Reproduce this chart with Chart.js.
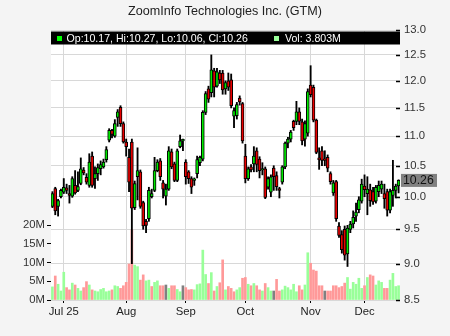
<!DOCTYPE html>
<html>
<head>
<meta charset="utf-8">
<script src="https://cdn.jsdelivr.net/npm/chart.js@4.4.1/dist/chart.umd.min.js"></script>
<style>
  html, body { margin: 0; padding: 0; background: #f4f4f4; }
</style>
</head>
<body>
<canvas id="chart" width="450" height="336"></canvas>
<script>
// trading days, Jun 25 - Dec 17 2025
var dates = [
  "2025-06-25","2025-06-26","2025-06-27","2025-06-30",
  "2025-07-01","2025-07-02","2025-07-03","2025-07-07","2025-07-08","2025-07-09","2025-07-10","2025-07-11",
  "2025-07-14","2025-07-15","2025-07-16","2025-07-17","2025-07-18","2025-07-21","2025-07-22","2025-07-23",
  "2025-07-24","2025-07-25","2025-07-28","2025-07-29","2025-07-30","2025-07-31",
  "2025-08-01","2025-08-04","2025-08-05","2025-08-06","2025-08-07","2025-08-08","2025-08-11","2025-08-12",
  "2025-08-13","2025-08-14","2025-08-15","2025-08-18","2025-08-19","2025-08-20","2025-08-21","2025-08-22",
  "2025-08-25","2025-08-26","2025-08-27","2025-08-28","2025-08-29",
  "2025-09-02","2025-09-03","2025-09-04","2025-09-05","2025-09-08","2025-09-09","2025-09-10","2025-09-11",
  "2025-09-12","2025-09-15","2025-09-16","2025-09-17","2025-09-18","2025-09-19","2025-09-22","2025-09-23",
  "2025-09-24","2025-09-25","2025-09-26","2025-09-29","2025-09-30",
  "2025-10-01","2025-10-02","2025-10-03","2025-10-06","2025-10-07","2025-10-08","2025-10-09","2025-10-10",
  "2025-10-13","2025-10-14","2025-10-15","2025-10-16","2025-10-17","2025-10-20","2025-10-21","2025-10-22",
  "2025-10-23","2025-10-24","2025-10-27","2025-10-28","2025-10-29","2025-10-30","2025-10-31",
  "2025-11-03","2025-11-04","2025-11-05","2025-11-06","2025-11-07","2025-11-10","2025-11-11","2025-11-12",
  "2025-11-13","2025-11-14","2025-11-17","2025-11-18","2025-11-19","2025-11-20","2025-11-21","2025-11-24",
  "2025-11-25","2025-11-26","2025-11-28",
  "2025-12-01","2025-12-02","2025-12-03","2025-12-04","2025-12-05","2025-12-08","2025-12-09","2025-12-10",
  "2025-12-11","2025-12-12","2025-12-15","2025-12-16","2025-12-17"
];

var opens = [
  9.85,10.13,9.85,10.00, 10.07,10.14,10.05,10.01,10.18,10.10,10.21,10.43,10.31,10.18,10.66,10.29,10.37,10.45,
  10.48,10.60,10.93,11.10,11.00,11.33,11.51,11.22, 10.90,10.64,10.90,9.83,10.32,10.40,9.91,9.62,9.66,10.00,
  10.10,10.42,10.58,10.22,10.01,10.12,10.73,10.53,10.26,10.82,10.92, 10.56,10.40,10.29,10.26,10.37,10.55,10.61,
  11.42,11.85,11.78,12.19,11.90,12.15,12.15,11.85,12.00,12.02,11.35,11.36,11.68,11.58, 10.66,10.29,10.48,10.53,
  10.75,10.61,10.43,10.45,10.15,10.07,10.46,10.34,10.13,10.23,10.48,10.88,10.95,11.26,11.26,11.43,11.25,10.95,
  11.05, 11.92,11.88,11.28,10.63,10.75,10.61,10.64,10.37,10.06,10.24,9.55,9.42,9.50,9.14,9.50,9.58,9.70,9.80,
  9.93, 10.17,10.05,10.11,10.08,9.93,10.08,10.12,10.05,10.08,9.79,10.02,10.10,10.17
];
var highs = [
  10.08,10.15,9.96,10.12, 10.29,10.20,10.18,10.32,10.42,10.40,10.63,10.47,10.37,10.70,10.73,10.48,10.53,10.58,
  10.61,10.82,11.13,11.12,11.29,11.47,11.54,11.25, 10.95,10.78,10.95,10.25,10.80,10.43,9.93,9.65,10.15,10.12,
  10.64,10.60,10.62,10.26,10.20,10.82,10.78,10.56,10.78,11.02,10.95, 10.60,10.42,10.32,10.30,10.66,10.66,11.45,
  11.80,11.90,12.50,12.24,12.24,12.20,12.20,12.00,12.15,12.13,11.50,11.60,11.72,11.60, 10.86,10.48,10.52,10.82,
  10.80,10.65,10.55,10.48,10.32,10.35,10.50,10.40,10.15,10.50,10.90,10.98,11.10,11.28,11.62,11.50,11.30,11.27,
  11.85, 12.29,11.92,11.30,10.80,10.82,10.75,10.68,10.40,10.26,10.26,9.60,9.48,9.55,9.56,9.62,9.78,9.90,10.00,
  10.28, 10.35,10.32,10.20,10.15,10.18,10.25,10.25,10.20,10.12,10.12,10.59,10.20,10.27
];
var lows = [
  9.83,9.72,9.70,9.98, 10.05,10.05,9.90,9.99,10.04,10.08,10.19,10.35,10.20,10.15,10.15,10.13,10.26,10.35,
  10.46,10.56,10.90,10.97,10.98,11.17,11.17,10.88, 10.66,10.08,9.00,9.80,9.95,9.82,9.50,9.45,9.62,9.98,
  10.08,10.40,10.26,9.98,9.87,10.10,10.45,10.24,10.24,10.80,10.75, 10.20,10.21,10.05,10.18,10.30,10.50,10.58,
  11.38,11.60,11.70,11.70,11.88,11.95,11.75,11.75,11.82,11.50,11.15,11.30,11.55,10.88, 10.22,10.26,10.40,10.40,
  10.40,10.30,10.35,9.97,10.12,10.00,10.10,10.10,9.98,10.20,10.45,10.80,10.90,11.10,11.20,11.20,10.85,10.83,
  11.00, 11.70,11.25,10.70,10.44,10.50,10.50,10.40,10.20,10.02,9.62,9.38,9.15,9.05,8.96,9.45,9.52,9.62,9.75,
  9.90, 10.00,9.72,9.85,9.88,9.90,10.00,10.05,9.82,9.70,9.75,9.85,9.98,10.06
];
var closes = [
  10.05,9.78,9.94,10.10, 10.15,10.10,10.02,10.29,10.06,10.16,10.45,10.38,10.23,10.56,10.18,10.37,10.47,10.52,
  10.56,10.77,11.10,11.03,11.22,11.43,11.22,10.90, 10.82,10.23,9.82,10.21,10.42,9.85,9.55,9.56,10.10,10.05,
  10.42,10.56,10.32,10.12,10.12,10.75,10.48,10.26,10.75,10.92,10.92, 10.32,10.29,10.15,10.26,10.60,10.64,11.42,
  11.76,11.66,12.21,11.88,12.17,12.02,11.83,11.97,11.88,11.54,11.45,11.56,11.61,10.92, 10.29,10.45,10.43,10.66,
  10.52,10.42,10.45,9.99,10.29,10.32,10.32,10.16,10.10,10.48,10.88,10.95,11.07,11.15,11.43,11.26,10.92,11.22,
  11.80, 11.74,11.28,10.72,10.60,10.59,10.59,10.46,10.24,10.22,9.66,9.41,9.20,9.12,9.52,9.58,9.68,9.76,9.95,
  10.20, 10.11,10.12,9.94,9.92,10.15,10.18,10.20,9.97,9.79,10.08,10.10,10.17,10.26
];
// volume in millions of shares
var volumes = [
  3.5,6.4,4.2,2.4, 7.4,3.3,2.7,4.5,4.0,3.1,2.4,3.3,4.9,4.0,2.7,2.4,2.2,2.8,3.1,2.2,2.4,2.7,3.8,3.6,3.1,3.8,
  4.7,9.6,18.7,9.3,8.9,5.3,6.7,5.1,5.3,3.6,4.7,5.1,3.8,3.8,4.0,3.1,3.8,3.8,2.8,2.2,3.8,
  3.3,2.7,2.8,2.7,4.1,4.3,13.3,6.8,4.4,7.3,2.4,3.6,4.6,10.7,2.7,3.6,3.1,2.2,2.7,3.3,5.8,
  6.0,4.2,3.8,4.4,3.8,2.7,2.4,4.4,3.3,2.4,2.4,5.5,2.4,2.7,3.7,3.3,2.7,4.2,2.2,3.8,2.7,4.0,12.6,
  9.8,8.0,7.7,3.8,3.8,2.4,2.4,2.4,3.8,3.8,3.3,3.6,4.5,6.0,2.9,4.7,4.2,5.8,3.1,
  3.8,6.0,6.7,6.4,4.0,5.1,4.7,3.1,3.1,5.3,7.1,3.6,3.803
];
var priceTicks = [8.5, 9.0, 9.5, 10.0, 10.5, 11.0, 11.5, 12.0, 12.5, 13.0];
var volumeTicks = [0, 5, 10, 15, 20];
var monthNames = ["Jan","Feb","Mar","Apr","May","Jun","Jul","Aug","Sep","Oct","Nov","Dec"];
var title = "ZoomInfo Technologies Inc. (GTM)";

var UP = "#00e800", DOWN = "#e80000";
var VOL_UP = "#99ff99", VOL_DOWN = "#ff9999", VOL_FLAT = "#808080";

// first trading day of each month after the first one
var monthStarts = [];
for (var i = 1; i < dates.length; i++) {
  if (dates[i].substr(5, 2) != dates[i - 1].substr(5, 2)) monthStarts.push(i);
}

var wickData = [], bodyData = [], bodyColors = [], volColors = [];
for (var i = 0; i < dates.length; i++) {
  wickData.push([lows[i], highs[i]]);
  bodyData.push([opens[i], closes[i]]);
  bodyColors.push(closes[i] >= opens[i] ? UP : DOWN);
  var prev = i > 0 ? closes[i - 1] : opens[i];
  volColors.push(closes[i] > prev ? VOL_UP : (closes[i] < prev ? VOL_DOWN : VOL_FLAT));
}

var FONT = '"Liberation Sans", Arial, sans-serif';
Chart.defaults.font.family = FONT;
Chart.defaults.color = "#333";

var last = dates.length - 1;

var chrome = {
  id: "chrome",
  beforeDraw: function(chart) {
    var ctx = chart.ctx, a = chart.chartArea;
    ctx.save();
    ctx.fillStyle = "#f4f4f4";
    ctx.fillRect(0, 0, chart.width, chart.height);
    ctx.fillStyle = "#ffffff";
    ctx.fillRect(a.left, a.top, a.right - a.left, a.bottom - a.top);
    ctx.restore();
  },
  afterDraw: function(chart) {
    var ctx = chart.ctx, a = chart.chartArea, ys = chart.scales.y;
    ctx.save();
    // title
    ctx.fillStyle = "#222";
    ctx.font = "12.6px " + FONT;
    ctx.textAlign = "center";
    ctx.textBaseline = "alphabetic";
    ctx.fillText(title, 225, 15);

    // inner tick marks on the price axis
    ctx.strokeStyle = "#000";
    ctx.lineWidth = 1.5;
    priceTicks.forEach(function(v) {
      var y = Math.round(ys.getPixelForValue(v)) + 0.5;
      ctx.beginPath();
      ctx.moveTo(a.right - 4, y);
      ctx.lineTo(a.right, y);
      ctx.stroke();
    });

    // header bar with last bar values
    ctx.fillStyle = "#000";
    ctx.fillRect(a.left, 31.5, a.right - a.left, 13);
    ctx.fillStyle = "#00ff00";
    ctx.fillRect(57, 36, 5, 5);
    ctx.fillStyle = VOL_UP;
    ctx.fillRect(274, 36, 5, 5);
    ctx.fillStyle = "#fff";
    ctx.font = "10.6px " + FONT;
    ctx.textAlign = "left";
    ctx.fillText("Op:" + opens[last].toFixed(2) + ", Hi:" + highs[last].toFixed(2) +
                 ", Lo:" + lows[last].toFixed(2) + ", Cl:" + closes[last].toFixed(2), 66.5, 42);
    ctx.fillText("Vol: " + volumes[last].toFixed(3) + "M", 285, 42);

    // last price box
    var yl = ys.getPixelForValue(closes[last]);
    ctx.fillStyle = "#808080";
    ctx.fillRect(401, yl - 6.5, 36, 13);
    ctx.fillStyle = "#111";
    ctx.font = "12.3px " + FONT;
    ctx.textBaseline = "middle";
    ctx.fillText(closes[last].toFixed(2), 403, yl + 0.5);
    ctx.restore();
  }
};

new Chart(document.getElementById("chart"), {
  type: "bar",
  data: {
    labels: dates,
    datasets: [{
      label: "body",
      data: bodyData,
      yAxisID: "y",
      backgroundColor: bodyColors,
      borderColor: "#000",
      borderWidth: 1,
      borderSkipped: false,
      barThickness: 3,
      minBarLength: 1.5,
      grouped: false,
      order: 0
    }, {
      label: "wick",
      data: wickData,
      yAxisID: "y",
      backgroundColor: "#000",
      barThickness: 1.2,
      grouped: false,
      order: 1
    }, {
      label: "volume",
      data: volumes.map(function(v) { return v * 1e6; }),
      yAxisID: "v",
      backgroundColor: volColors,
      barThickness: 2,
      grouped: false,
      order: 2
    }]
  },
  options: {
    responsive: false,
    animation: false,
    layout: { padding: { top: 30, left: 0, right: 0, bottom: 0 } },
    plugins: { legend: { display: false }, tooltip: { enabled: false } },
    scales: {
      x: {
        type: "category",
        offset: true,
        border: { display: false },
        grid: { color: "#d8d8d8", offset: false, tickLength: 3, tickColor: "#000" },
        afterBuildTicks: function(axis) {
          axis.ticks = monthStarts.map(function(i) { return { value: i }; });
        },
        afterFit: function(axis) { axis.height = 36; },
        ticks: {
          autoSkip: false, maxRotation: 0, padding: 2,
          font: { size: 11.3 }, color: "#222",
          callback: function(value, index) {
            var d = dates[value];
            var m = monthNames[parseInt(d.substr(5, 2), 10) - 1];
            return index == 0 ? m + " " + d.substr(2, 2) : m;
          }
        }
      },
      y: {
        type: "logarithmic",
        position: "right",
        min: 8.5, max: 13.0,
        border: { display: false },
        grid: { color: "#d8d8d8", drawTicks: false },
        afterBuildTicks: function(axis) {
          axis.ticks = priceTicks.map(function(v) { return { value: v }; });
        },
        afterFit: function(axis) { axis.width = 50; },
        ticks: {
          autoSkip: false, padding: 4, font: { size: 11.3 }, color: "#333",
          callback: function(v) { return v.toFixed(1); }
        }
      },
      v: {
        type: "linear",
        position: "left",
        min: 0, max: 72e6,
        border: { display: false },
        grid: { drawOnChartArea: false, tickLength: 4, tickColor: "#000" },
        afterBuildTicks: function(axis) {
          axis.ticks = volumeTicks.map(function(v) { return { value: v * 1e6 }; });
        },
        afterFit: function(axis) { axis.width = 51; },
        ticks: {
          autoSkip: false, padding: 2, font: { size: 11.3 }, color: "#333",
          callback: function(v) { return (v / 1e6) + "M"; }
        }
      }
    }
  },
  plugins: [chrome]
});
</script>
</body>
</html>
